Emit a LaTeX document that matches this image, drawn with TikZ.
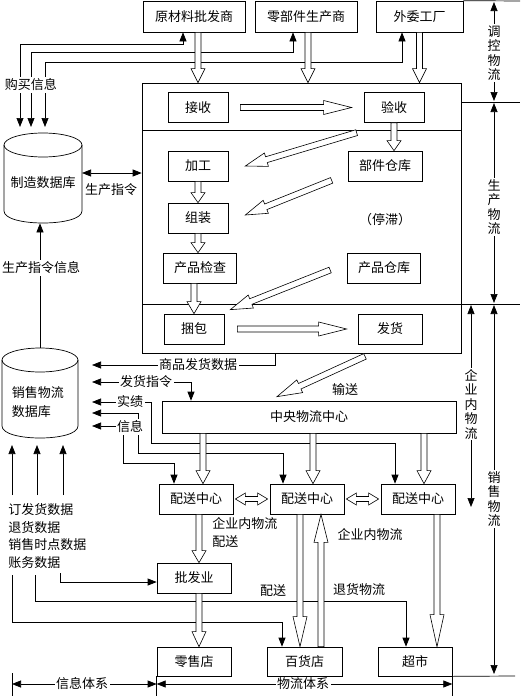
\documentclass[tikz,border=0pt]{standalone}
\usepackage{fontspec}
\setmainfont{Noto Sans CJK SC}
\usetikzlibrary{arrows.meta,calc}

\tikzset{
  >={Triangle[length=9pt,width=7pt]},
  box/.style={draw, inner sep=0pt, minimum width=60pt, minimum height=30pt},
  lbl/.style={fill=white, inner sep=1.5pt},
  vlbl/.style={fill=white, inner sep=1pt, align=center, font=\fontsize{13pt}{14.5pt}\selectfont},
  hollowarr/.style={draw, fill=white, line width=0.6pt},
  dbase/.style={inner sep=0pt, minimum width=78pt, minimum height=90pt},
}

% outlined arrow from #2 to #3, head length #1
\newcommand{\hollowarrow}[3][14pt]{%
  \path #2 coordinate (ha-a) #3 coordinate (ha-b);
  \coordinate (ha-h) at ($(ha-b)!#1!(ha-a)$);
  \draw[hollowarr] ($(ha-a)!3pt!90:(ha-b)$) -- ($(ha-h)!3pt!90:(ha-b)$)
    -- ($(ha-h)!7pt!90:(ha-b)$) -- (ha-b) -- ($(ha-h)!7pt!-90:(ha-b)$)
    -- ($(ha-h)!3pt!-90:(ha-b)$) -- ($(ha-a)!3pt!-90:(ha-b)$) -- cycle;
}
% outlined arrow with a head at both ends
\newcommand{\hollowdarrow}[2]{%
  \path #1 coordinate (ha-a) #2 coordinate (ha-b);
  \coordinate (ha-h) at ($(ha-b)!10pt!(ha-a)$);
  \coordinate (ha-t) at ($(ha-a)!10pt!(ha-b)$);
  \draw[hollowarr] (ha-a) -- ($(ha-t)!6pt!90:(ha-b)$) -- ($(ha-t)!2.5pt!90:(ha-b)$)
    -- ($(ha-h)!2.5pt!90:(ha-b)$) -- ($(ha-h)!6pt!90:(ha-b)$) -- (ha-b)
    -- ($(ha-h)!6pt!-90:(ha-b)$) -- ($(ha-h)!2.5pt!-90:(ha-b)$)
    -- ($(ha-t)!2.5pt!-90:(ha-b)$) -- ($(ha-t)!6pt!-90:(ha-b)$) -- cycle;
}

\begin{document}
\begin{tikzpicture}[x=1pt, y=-1pt, line width=0.7pt, font=\fontsize{13pt}{15pt}\selectfont]
    \useasboundingbox (0,0) rectangle (520,696);

    % Suppliers
    \node[box, minimum width=102pt, minimum height=31pt] (yuan) at (194,16.5) {原材料批发商};
    \node[box, minimum width=102pt, minimum height=31pt] (ling) at (306,16.5) {零部件生产商};
    \node[box, minimum width=87pt, minimum height=31pt] (wai) at (419.5,16.5) {外委工厂};

    % Production area
    \node[draw, minimum width=319pt, minimum height=270pt] (plant) at (301.5,218) {};
    \draw (142,130) -- (461,130);
    \draw (142,304) -- (520,304);
    \draw (461,102) -- (520,102);
    \draw (wai.north east) -- (520,1);

    \node[box] (jieshou) at (198,107.5) {接收};
    \node[box] (yanshou) at (394,107.5) {验收};
    \node[box, minimum width=74pt] (bujian) at (385,166) {部件仓库};
    \node[box] (jiagong) at (198,166) {加工};
    \node[box] (zuzhuang) at (198,218) {组装};
    \node[box, minimum width=73pt] (jiancha) at (200,268) {产品检查};
    \node[box, minimum width=73pt] (cangku) at (384,268) {产品仓库};
    \node[box] (kunbao) at (194,329) {捆包};
    \node[box, minimum width=64pt] (fahuo) at (390,329) {发货};
    \node at (385,220) {（停滞）};

    % Distribution
    \node[box, minimum width=294pt, minimum height=32pt] (zhongyang) at (309,417) {中央物流中心};
    \node[box, minimum width=74pt] (ps1) at (196,499) {配送中心};
    \node[box, minimum width=74pt] (ps2) at (307,499) {配送中心};
    \node[box, minimum width=74pt] (ps3) at (418,499) {配送中心};
    \node[box, minimum width=74pt] (pf) at (194,578) {批发业};
    \node[box, minimum width=74pt, minimum height=29pt] (ls) at (194,661.5) {零售店};
    \node[box, minimum width=75pt, minimum height=29pt] (bh) at (304.5,661.5) {百货店};
    \node[box, minimum width=74pt, minimum height=29pt] (cs) at (415,661.5) {超市};

    % Databases
    \node[dbase] (zhizao) at (43,178) {};
    \draw (43,145) ellipse (39 and 12);
    \draw (4,145) -- (4,211) .. controls (4,227) and (82,227) .. (82,211) -- (82,145);
    \node at (43,183) {制造数据库};
    \node[dbase, minimum width=76pt] (xiaoshou) at (40,393) {};
    \draw (40,360) ellipse (38 and 12);
    \draw (2,360) -- (2,426) .. controls (2,442) and (78,442) .. (78,426) -- (78,360);
    \node[align=left, font=\fontsize{13pt}{19pt}\selectfont] at (38,402) {销售物流\\数据库};

    % Purchasing information
    \draw[<->] ([xshift=-11pt]yuan.south) |- (20,44) -- (20,127);
    \draw[<->] ([xshift=-13pt]ling.south) |- (31,52) -- (31,127);
    \draw[<->] ([xshift=-17.5pt]wai.south) |- (45,62) -- (45,127);
    \node[lbl] at (31,85) {购买信息};

    % Production commands
    \draw[<->] (82,173) -- (plant.west |- 82,173);
    \node at (111,190) {生产指令};
    \draw[->] (xiaoshou.north) -- (xiaoshou.north |- zhizao.south);
    \node[lbl] at (41,268) {生产指令信息};

    % Shipping data and orders
    \draw[->] ([xshift=-26.5pt]plant.south) |- (92,365);
    \node[lbl] at (198,365) {商品发货数据};
    \draw[<->] (92,382) -| ([xshift=-118pt]zhongyang.north);
    \node[lbl] at (146,382) {发货指令};
    \draw[<->] (92,402) -| (151,443) -| ([xshift=-23pt]ps3.north);
    \node[lbl] at (130,402) {实绩};
    \draw[<->] (92,413) -| (138,453) -| ([xshift=-24pt]ps2.north);
    \draw[<->] (92,426) -| (123,463) -| ([xshift=-22pt]ps1.north);
    \node[lbl] at (130,427) {信息};

    % Data from the stores
    \draw[->] (12,495) -- (12,445);
    \draw[->] (37,495) -- (37,445);
    \draw[->] (63,495) -- (63,445);
    \node[anchor=west, inner sep=1pt] (d1) at (7,510) {订发货数据};
    \node[anchor=west, inner sep=1pt] (d2) at (7,528) {退货数据};
    \node[anchor=west, inner sep=1pt] (d3) at (7,545) {销售时点数据};
    \node[anchor=west, inner sep=1pt] (d4) at (7,563) {账务数据};
    \draw[->] (12,575) |- ($(bh.north)+(-22.5,-24)$) -- ([xshift=-22.5pt]bh.north);
    \draw[->] (35,575) |- ($(cs.north)+(-9,-45)$) -- ([xshift=-9pt]cs.north);
    \draw[->] (60,573) |- ([yshift=-4pt]pf.west);

    % Flow labels
    \node at (345,390) {输送};
    \node[anchor=west, inner sep=1pt] at (211,524) {企业内物流};
    \node[anchor=west, inner sep=1pt] at (211,542) {配送};
    \node at (370,535) {企业内物流};
    \node at (273,591) {配送};
    \node at (359,590) {退货物流};

    % System spans
    \draw (12,673) -- (12,696);
    \draw (ls.south west) -- (ls.south west |- 0,696);
    \draw (cs.south east) -- (cs.south east |- 0,696);
    \draw (cs.south east) -- (515,676);
    \draw[<->] (12,684) -- (ls.south west |- 0,684);
    \node[lbl] at (82,684) {信息体系};
    \draw[<->] (ls.south west |- 0,684) -- (cs.south east |- 0,684);
    \node[lbl] at (303,684) {物流体系};

    % Right side spans
    \draw[<->] (494,2) -- (494,101);
    \node[vlbl] at (494,53) {调\\控\\物\\流};
    \draw[<->] (494,103) -- (494,303);
    \node[vlbl] at (494,207) {生\\产\\物\\流};
    \draw[<->] (494,305) -- (494,674);
    \node[vlbl] at (494,499) {销\\售\\物\\流};
    \draw[<->] (471,305) -- (471,507);
    \node[vlbl] at (471,404) {企\\业\\内\\物\\流};

    % Material flow
    \hollowarrow{($(yuan.south)+(4,0)$)}{($(yuan.south |- plant.north)+(4,0)$)}
    \hollowarrow{($(ling.south)+(2,0)$)}{($(ling.south |- plant.north)+(2,0)$)}
    \hollowarrow{(wai.south)}{(wai.south |- plant.north)}
    \hollowarrow[28pt]{($(jieshou.east)+(12,0)$)}{($(yanshou.west)+(-12,0)$)}
    \hollowarrow[10pt]{(yanshou.south)}{(yanshou.south |- bujian.north)}
    \hollowarrow[22pt]{($(bujian.north west)+(9,-18)$)}{($(jiagong.east)+(17,0)$)}
    \hollowarrow[10pt]{(jiagong.south)}{(zuzhuang.north)}
    \hollowarrow[22pt]{($(bujian.south west)+(-16,-1)$)}{($(zuzhuang.east)+(17,-3)$)}
    \hollowarrow[10pt]{(zuzhuang.south)}{(zuzhuang.south |- jiancha.north)}
    \hollowarrow[22pt]{($(cangku.west)+(-17,2)$)}{($(kunbao.north east)+(6,-4)$)}
    \hollowarrow[12pt]{(kunbao.north |- jiancha.south)}{(kunbao.north)}
    \hollowarrow[28pt]{($(kunbao.east)+(13,0)$)}{($(fahuo.west)+(-11,0)$)}
    \hollowarrow[25pt]{($(fahuo.south)+(-25,12)$)}{($(zhongyang.north)+(-32,-4)$)}
    \hollowarrow[13pt]{($(ps1.north |- zhongyang.south)+(7,0)$)}{($(ps1.north)+(7,0)$)}
    \hollowarrow[13pt]{($(ps2.north |- zhongyang.south)+(6,0)$)}{($(ps2.north)+(6,0)$)}
    \hollowarrow[13pt]{($(ps3.north |- zhongyang.south)+(6,0)$)}{($(ps3.north)+(6,0)$)}
    \hollowdarrow{($(ps1.east)+(2,0)$)}{($(ps2.west)+(-2,0)$)}
    \hollowdarrow{($(ps2.east)+(2,0)$)}{($(ps3.west)+(-2,0)$)}
    \hollowarrow[12pt]{($(pf.north |- ps1.south)+(5,0)$)}{($(pf.north)+(5,0)$)}
    \hollowarrow[15pt]{($(pf.south)+(5,0)$)}{($(ls.north)+(5,0)$)}
    \hollowarrow[30pt]{($(ps2.south)+(-7,0)$)}{($(ps2.south |- bh.north)+(-7,0)$)}
    \hollowarrow[28pt]{($(ps2.south |- bh.north)+(14,0)$)}{($(ps2.south)+(14,0)$)}
    \hollowarrow[32pt]{($(ps3.south)+(19,0)$)}{($(ps3.south |- cs.north)+(19,0)$)}
\end{tikzpicture}
\end{document}
